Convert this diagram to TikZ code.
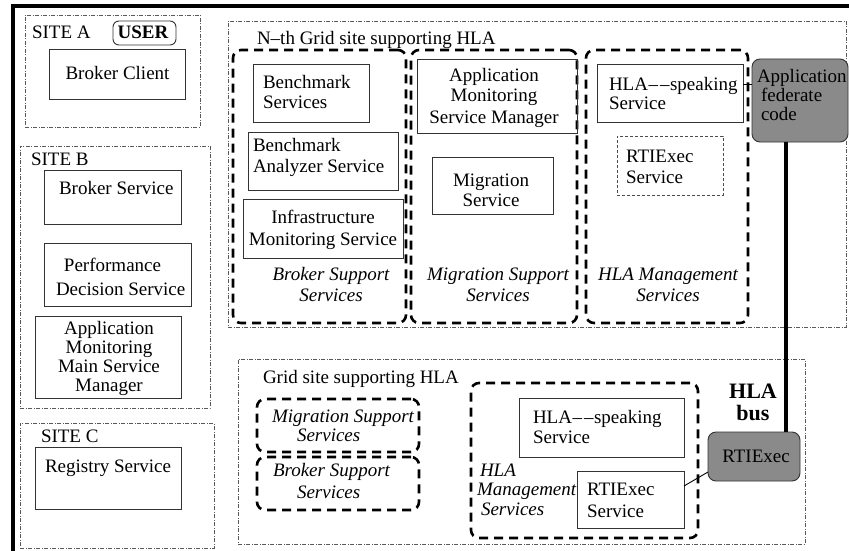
\documentclass[tikz,border=0pt]{standalone}
\usepackage{fontspec}
\setmainfont{Liberation Serif}
\usetikzlibrary{fit,calc}
\definecolor{boxgray}{RGB}{138,138,138}
\tikzset{
  txt/.style={inner sep=0pt, outer sep=0pt, anchor=base, font=\fontsize{19}{20}\selectfont, align=center},
  ltxt/.style={txt, anchor=base west, align=left},
  svcbox/.style={draw=black!80, line width=0.9pt, inner sep=0pt, outer sep=0pt},
  sitebox/.style={draw=black!65, line width=0.8pt, dash pattern=on 4pt off 1.5pt on 1pt off 1.5pt, inner sep=0pt, outer sep=0pt},
  grpbox/.style={draw=black, line width=2.6pt, dash pattern=on 9pt off 6pt, rounded corners=8pt, inner sep=0pt, outer sep=0pt},
  thinDashBox/.style={draw=black!70, line width=0.8pt, dash pattern=on 3pt off 2pt, inner sep=0pt, outer sep=0pt},
  graybox/.style={draw=black!80, line width=0.9pt, fill=boxgray, rounded corners=8pt, inner sep=0pt, outer sep=0pt},
  conn/.style={draw=black, line width=0.9pt},
  bus/.style={draw=black, line width=4pt},
}
\newcommand{\ddash}{\kern0.5pt–\kern2pt–\kern0.5pt}
\begin{document}
\begin{tikzpicture}[x=1pt,y=-1pt]
\useasboundingbox (0,0) rectangle (849,551);
% outer frame
\draw[line width=4pt] (13,551) -- (13,6) -- (849,6);

% ---------- SITE A
\node[sitebox, fit={(25,15) (200,127)}] (siteA) {};
\node[ltxt] (siteAlbl) at (32,39) {SITE A};
\node[svcbox, rounded corners=6pt, fit={(113,21) (176,45)}] (user) {};
\node[txt, font=\fontsize{19}{20}\bfseries\selectfont] (userlbl) at (143,39) {USER};
\node[svcbox, fit={(49,49) (185,99)}] (bclient) {};
\node[txt] (bclientlbl) at (117.5,80) {Broker Client};

% ---------- SITE B
\node[sitebox, fit={(20,146) (210,408)}] (siteB) {};
\node[ltxt] (siteBlbl) at (31,165) {SITE B};
\node[svcbox, fit={(44,170) (181,224)}] (bserv) {};
\node[ltxt] (bservlbl) at (59,194) {Broker Service};
\node[svcbox, fit={(44,243) (191,306)}] (perf) {};
\node[ltxt, font=\fontsize{19}{24}\selectfont] (perflbl) at (56,295) {\hspace*{8pt}Performance\\Decision Service};
\node[svcbox, fit={(35,316) (181,398)}] (ammsm) {};
\node[txt, font=\fontsize{19}{19}\selectfont] (ammsmlbl) at (109,391) {Application\\Monitoring\\Main Service\\Manager};

% ---------- SITE C
\node[sitebox, fit={(20,423) (214,548)}] (siteC) {};
\node[ltxt] (siteClbl) at (41,442) {SITE C};
\node[svcbox, fit={(35,447) (181,509)}] (reg) {};
\node[ltxt] (reglbl) at (45,472) {Registry Service};

% ---------- N-th Grid site
\node[sitebox, fit={(228,21) (846,327)}] (nth) {};
\node[ltxt] (nthlbl) at (257,45) {N–th Grid site supporting HLA};
\node[grpbox, fit={(233,50) (406,323)}] (bsup) {};
\node[grpbox, fit={(411,50) (577,323)}] (msup) {};
\node[grpbox, fit={(586,50) (748,323)}] (hmgmt) {};

\node[svcbox, fit={(253,64) (369,122)}] (bench) {};
\node[ltxt] (benchlbl) at (263,108) {Benchmark\\Services};
\node[svcbox, fit={(248,132) (398,190)}] (bas) {};
\node[ltxt, font=\fontsize{19}{21}\selectfont] (baslbl) at (253,172) {Benchmark\\Analyzer Service};
\node[svcbox, fit={(243,199) (403,258)}] (ims) {};
\node[txt, font=\fontsize{19}{22}\selectfont] (imslbl) at (323,245) {Infrastructure\\Monitoring Service};
\node[txt, font=\fontsize{19}{21}\selectfont\itshape] (bsuplbl) at (331,301) {Broker Support\\Services};

\node[svcbox, fit={(417,59) (577,133)}] (amsm) {};
\node[txt, font=\fontsize{19}{21}\selectfont] (amsmlbl) at (494,123) {Application\\Monitoring\\Service Manager};
\node[svcbox, fit={(432,157) (553,214)}] (migs) {};
\node[txt] (migslbl) at (491,206) {Migration\\Service};
\node[txt, font=\fontsize{19}{21}\selectfont\itshape] (msuplbl) at (498,301) {Migration Support\\Services};

\node[svcbox, fit={(597,64) (743,122)}] (hs1) {};
\node[ltxt, font=\fontsize{19}{19}\selectfont] (hs1lbl) at (609,110) {HLA\ddash speaking\\Service};
\node[thinDashBox, fit={(617,136) (723,195)}] (rts1) {};
\node[ltxt, font=\fontsize{19}{21}\selectfont] (rts1lbl) at (626,183) {RTIExec\\Service};
\node[txt, font=\fontsize{19}{21}\selectfont\itshape] (hmgmtlbl) at (668,301) {HLA Management\\Services};

\node[graybox, fit={(752,59) (848,142)}] (app) {};
\node[ltxt, font=\fontsize{19}{19}\selectfont] (applbl) at (757,121) {Application\\\hspace*{4pt}federate\\\hspace*{4pt}code};

% ---------- lower Grid site
\node[sitebox, fit={(238,359) (805,544)}] (low) {};
\node[ltxt] (lowlbl) at (263,383) {Grid site supporting HLA};
\node[grpbox, fit={(257,399) (419,452)}] (msup2) {};
\node[ltxt, font=\fontsize{19}{19}\selectfont\itshape] (msup2lbl) at (272,441) {Migration Support\\\hspace*{25pt}Services};
\node[grpbox, fit={(257,457) (419,510)}] (bsup2) {};
\node[ltxt, font=\fontsize{19}{22}\selectfont\itshape] (bsup2lbl) at (273,498) {Broker Support\\\hspace*{24pt}Services};
\node[grpbox, fit={(471,383) (698,538)}] (hmgmt2) {};
\node[ltxt, font=\fontsize{19}{19.5}\selectfont\itshape] (hmgmt2lbl) at (480,515) {HLA\\\hspace*{-3pt}Management\\\hspace*{1pt}Services};
\node[svcbox, fit={(519,398) (684,457)}] (hs2) {};
\node[ltxt] (hs2lbl) at (533,443) {HLA\ddash speaking\\Service};
\node[svcbox, fill=white, fit={(577,471) (684,528)}] (rts2) {};
\node[ltxt, font=\fontsize{19}{22}\selectfont] (rts2lbl) at (587,517) {RTIExec\\Service};
\node[graybox, fit={(708,432) (800,481)}] (rti) {};
\node[txt] (rtilbl) at (756,462) {RTIExec};
\node[txt, font=\fontsize{22}{22}\bfseries\selectfont] (buslbl) at (753,420) {HLA\\bus};

% ---------- connectors
\draw[conn] ([yshift=-20pt]hs1.north east) -- ([yshift=-25pt]app.north west);
\draw[bus] ([xshift=-14pt]app.south) -- ([xshift=-14pt]app.south |- rti.north);
\draw[conn] ([yshift=-15pt]rts2.north east) -- ([yshift=-40pt]rti.north west);
\end{tikzpicture}
\end{document}
